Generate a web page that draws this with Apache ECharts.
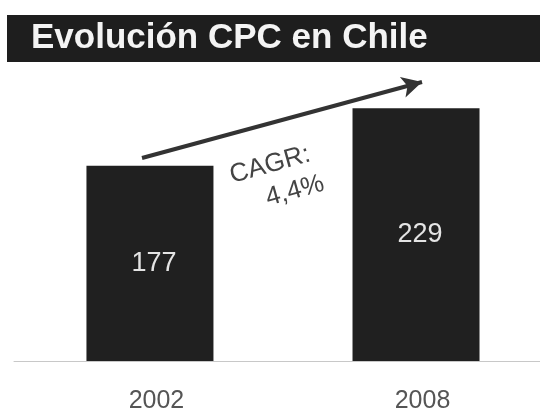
<!DOCTYPE html>
<html>
<head>
<meta charset="utf-8">
<script src="https://cdn.jsdelivr.net/npm/echarts@6/dist/echarts.min.js"></script>
<style>html,body{margin:0;padding:0;background:#fff}#c{width:540px;height:414px}</style>
</head>
<body>
<div id="c"></div>
<script>
var titleText = 'Evolución CPC en Chile';
var categories = ['2002', '2008'];
var values = [177, 229];
var cagrLabel = 'CAGR:';
var cagrValue = '4,4%';

var barData = values.map(function (v, i) { return [i, v]; });
var labelPositions = categories.map(function (c, i) { return i; });

var chart = echarts.init(document.getElementById('c'), null, {renderer: 'canvas'});
chart.setOption({
  animation: false,
  backgroundColor: '#ffffff',
  grid: {left: 14, right: 0, top: 30, bottom: 49},
  xAxis: {
    type: 'value',
    min: -0.511,
    max: 1.466,
    splitLine: {show: false},
    axisLine: {show: true, lineStyle: {color: '#c8c8c8', width: 1}},
    axisTick: {show: false},
    axisLabel: {
      customValues: labelPositions,
      formatter: function (v) { return categories[Math.round(v)]; },
      color: '#555', fontSize: 25, fontFamily: 'Liberation Sans', margin: 28,
      padding: [0, 0, 0, 13]
    }
  },
  yAxis: {
    type: 'value', min: 0, max: 300, show: false,
    splitLine: {show: false}
  },
  graphic: [
    {type: 'rect', left: 7, top: 15, shape: {width: 540, height: 47}, style: {fill: '#1e1e1e'}, z: 1},
    {type: 'text', left: 31, top: 21, z: 2,
     style: {text: titleText, fill: '#f4f4f4', font: 'bold 35px "Liberation Sans"'}},
    {type: 'text', x: 270, y: 165, rotation: 0.27, z: 3,
     style: {text: cagrLabel, fill: '#444', font: '26px "Liberation Sans"', align: 'center', verticalAlign: 'middle'}},
    {type: 'text', x: 295, y: 191, rotation: 0.27, z: 3,
     style: {text: cagrValue, fill: '#444', font: '26px "Liberation Sans"', align: 'center', verticalAlign: 'middle'}}
  ],
  series: [{
    type: 'bar',
    data: barData,
    barWidth: 127,
    clip: false,
    itemStyle: {color: '#202020'},
    label: {
      show: true, position: 'inside', offset: [4, 0],
      formatter: function (p) { return p.value[1]; },
      color: '#e4e4e4', fontSize: 27, fontFamily: 'Liberation Sans'
    },
    markLine: {
      silent: true,
      symbol: ['none', 'arrow'],
      symbolSize: [16, 20],
      label: {show: false},
      lineStyle: {color: '#333', width: 4, type: 'solid'},
      data: [[{x: 142, y: 158}, {x: 422, y: 82}]]
    }
  }]
});
</script>
</body>
</html>
